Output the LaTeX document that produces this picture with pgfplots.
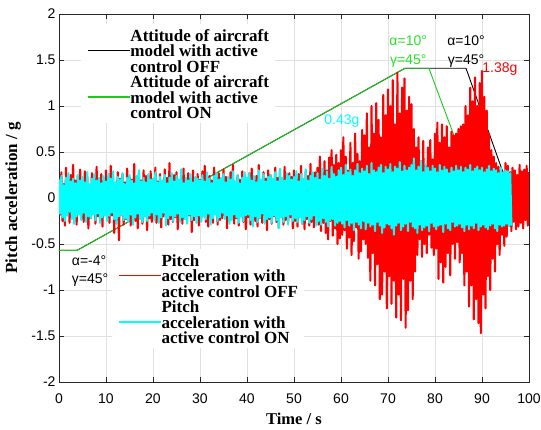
\documentclass[border=0pt]{standalone}
\usepackage{fontspec}
\setmainfont{Liberation Serif}
\newfontfamily\arial{Liberation Sans}
\usepackage{pgfplots}
\pgfplotsset{compat=1.18}
\usepackage{pgfplotstable}
\definecolor{mgreen}{rgb}{0.1,0.8,0.1}
\definecolor{mtgreen}{rgb}{0.15,0.9,0.15}
\definecolor{mcyan}{rgb}{0,1,1}
\definecolor{mred}{rgb}{1,0,0}

% pitch acceleration, active control OFF (sampled every 0.25 s from 0 to 100 s)
\pgfplotstableread[header=false,row sep=\\]{
0.22\\-0.18\\0.28\\-0.25\\0.15\\-0.30\\0.33\\-0.12\\0.20\\-0.27\\0.25\\-0.21\\0.36\\-0.16\\0.19\\-0.29\\0.24\\-0.14\\0.31\\-0.23\\
0.17\\-0.26\\0.29\\-0.19\\0.23\\-0.33\\0.14\\-0.22\\0.27\\-0.17\\0.21\\-0.28\\0.34\\-0.20\\0.16\\-0.25\\0.26\\-0.31\\0.19\\-0.15\\
0.30\\-0.22\\0.18\\-0.27\\0.35\\-0.19\\0.24\\-0.38\\0.15\\-0.24\\0.28\\-0.46\\0.21\\-0.18\\0.26\\-0.29\\0.17\\-0.23\\0.32\\-0.20\\
0.23\\-0.30\\0.20\\-0.16\\0.37\\-0.25\\0.14\\-0.33\\0.27\\-0.21\\0.19\\-0.28\\0.30\\-0.17\\0.24\\-0.35\\0.16\\-0.22\\0.29\\-0.26\\
0.21\\-0.19\\0.33\\-0.27\\0.18\\-0.24\\0.26\\-0.32\\0.15\\-0.20\\0.31\\-0.18\\0.22\\-0.29\\0.38\\-0.23\\0.17\\-0.26\\0.25\\-0.21\\
0.28\\-0.34\\0.19\\-0.17\\0.24\\-0.28\\0.32\\-0.22\\0.16\\-0.25\\0.27\\-0.19\\0.21\\-0.37\\0.30\\-0.24\\0.18\\-0.20\\0.26\\-0.30\\
0.20\\-0.23\\0.29\\-0.18\\0.35\\-0.26\\0.17\\-0.31\\0.24\\-0.21\\0.19\\-0.27\\0.33\\-0.16\\0.22\\-0.29\\0.27\\-0.24\\0.15\\-0.22\\
0.31\\-0.19\\0.23\\-0.33\\0.18\\-0.25\\0.28\\-0.20\\0.36\\-0.28\\0.16\\-0.22\\0.25\\-0.30\\0.20\\-0.17\\0.29\\-0.26\\0.22\\-0.34\\
0.17\\-0.21\\0.27\\-0.29\\0.32\\-0.18\\0.19\\-0.25\\0.24\\-0.31\\0.36\\-0.22\\0.15\\-0.27\\0.28\\-0.19\\0.21\\-0.35\\0.30\\-0.23\\
0.25\\-0.28\\0.18\\-0.20\\0.33\\-0.26\\0.22\\-0.32\\0.29\\-0.17\\0.20\\-0.29\\0.34\\-0.24\\0.16\\-0.27\\0.27\\-0.21\\0.23\\-0.33\\
0.30\\-0.25\\0.21\\-0.31\\0.26\\-0.19\\0.35\\-0.28\\0.18\\-0.34\\0.29\\-0.23\\0.24\\-0.30\\0.37\\-0.26\\0.20\\-0.32\\0.28\\-0.24\\
0.33\\-0.29\\0.45\\-0.36\\0.28\\-0.27\\0.40\\-0.38\\0.30\\-0.45\\0.44\\-0.25\\0.52\\-0.41\\0.36\\-0.33\\0.47\\-0.50\\0.38\\-0.44\\
0.52\\-0.40\\0.66\\-0.35\\0.45\\-0.55\\0.30\\-0.43\\0.60\\-0.62\\0.38\\-0.47\\0.70\\-0.32\\0.48\\-0.66\\0.40\\-0.58\\0.74\\-0.45\\
0.68\\-0.50\\0.92\\-0.65\\0.55\\-0.90\\1.00\\-0.60\\0.70\\-0.95\\1.03\\-0.72\\0.85\\-1.10\\0.66\\-1.05\\1.12\\-0.80\\0.90\\-1.20\\
1.18\\-0.85\\1.00\\-1.15\\1.28\\-0.90\\0.80\\-1.30\\1.36\\-1.05\\0.92\\-1.33\\1.20\\-0.88\\1.30\\-1.41\\0.95\\-1.22\\1.10\\-0.90\\
1.02\\-1.10\\0.75\\-0.80\\0.55\\-0.62\\0.66\\-0.45\\0.40\\-0.64\\0.62\\-0.50\\0.35\\-0.60\\0.55\\-0.40\\0.63\\-0.54\\0.42\\-0.62\\
0.70\\-0.55\\0.82\\-0.88\\0.60\\-0.70\\0.80\\-0.92\\0.66\\-0.75\\0.78\\-0.60\\0.55\\-0.84\\0.72\\-0.50\\0.68\\-0.66\\0.70\\-0.48\\
0.75\\-0.70\\0.78\\-0.60\\0.80\\-0.95\\1.00\\-0.80\\0.90\\-1.18\\1.20\\-0.95\\1.05\\-1.32\\1.31\\-1.10\\1.00\\-1.36\\1.25\\-1.47\\
1.38\\-1.05\\1.10\\-1.20\\0.95\\-0.85\\0.70\\-1.00\\0.52\\-0.66\\0.45\\-0.80\\0.38\\-0.50\\0.34\\-0.62\\0.30\\-0.40\\0.28\\-0.52\\
0.38\\-0.42\\0.35\\-0.30\\0.28\\-0.36\\0.33\\-0.26\\0.30\\-0.34\\0.25\\-0.31\\0.36\\-0.27\\0.29\\-0.33\\0.31\\-0.24\\0.35\\-0.30\\0.28\\
}\redtab

% pitch acceleration, active control ON (sampled every 0.25 s from 0 to 96.25 s)
\pgfplotstableread[header=false,row sep=\\]{
0.20\\-0.17\\0.24\\-0.21\\0.14\\-0.25\\0.22\\-0.19\\0.27\\-0.15\\0.18\\-0.23\\0.21\\-0.28\\0.16\\-0.20\\0.25\\-0.18\\0.19\\-0.24\\
0.23\\-0.16\\0.17\\-0.26\\0.28\\-0.20\\0.15\\-0.22\\0.21\\-0.18\\0.26\\-0.24\\0.19\\-0.17\\0.22\\-0.27\\0.16\\-0.21\\0.24\\-0.19\\
0.18\\-0.25\\0.26\\-0.19\\0.21\\-0.16\\0.29\\-0.23\\0.17\\-0.28\\0.23\\-0.20\\0.20\\-0.18\\0.27\\-0.24\\0.15\\-0.22\\0.22\\-0.26\\
0.25\\-0.18\\0.19\\-0.29\\0.16\\-0.21\\0.24\\-0.17\\0.30\\-0.23\\0.18\\-0.26\\0.22\\-0.20\\0.17\\-0.25\\0.26\\-0.19\\0.20\\-0.16\\
0.21\\-0.24\\0.28\\-0.18\\0.17\\-0.27\\0.23\\-0.21\\0.19\\-0.16\\0.25\\-0.30\\0.16\\-0.22\\0.22\\-0.19\\0.27\\-0.25\\0.18\\-0.20\\
0.24\\-0.17\\0.20\\-0.26\\0.31\\-0.21\\0.16\\-0.23\\0.22\\-0.28\\0.19\\-0.18\\0.26\\-0.24\\0.17\\-0.20\\0.23\\-0.27\\0.21\\-0.19\\
0.19\\-0.26\\0.25\\-0.20\\0.18\\-0.23\\0.28\\-0.17\\0.21\\-0.29\\0.16\\-0.22\\0.24\\-0.18\\0.27\\-0.25\\0.20\\-0.21\\0.22\\-0.16\\
0.26\\-0.23\\0.17\\-0.19\\0.23\\-0.28\\0.20\\-0.24\\0.29\\-0.18\\0.18\\-0.21\\0.25\\-0.27\\0.16\\-0.20\\0.22\\-0.25\\0.28\\-0.19\\
0.22\\-0.18\\0.27\\-0.24\\0.19\\-0.31\\0.24\\-0.20\\0.17\\-0.26\\0.30\\-0.22\\0.20\\-0.17\\0.26\\-0.28\\0.18\\-0.23\\0.23\\-0.21\\
0.25\\-0.27\\0.21\\-0.19\\0.28\\-0.24\\0.18\\-0.33\\0.32\\-0.21\\0.22\\-0.26\\0.19\\-0.20\\0.27\\-0.29\\0.24\\-0.18\\0.20\\-0.25\\
0.23\\-0.22\\0.29\\-0.26\\0.18\\-0.21\\0.26\\-0.28\\0.21\\-0.24\\0.31\\-0.20\\0.19\\-0.27\\0.24\\-0.23\\0.28\\-0.19\\0.22\\-0.30\\
0.27\\-0.25\\0.20\\-0.29\\0.32\\-0.22\\0.24\\-0.26\\0.29\\-0.31\\0.21\\-0.24\\0.34\\-0.23\\0.26\\-0.30\\0.23\\-0.27\\0.30\\-0.25\\
0.33\\-0.28\\0.25\\-0.32\\0.36\\-0.24\\0.28\\-0.30\\0.31\\-0.27\\0.24\\-0.35\\0.30\\-0.26\\0.37\\-0.29\\0.27\\-0.33\\0.32\\-0.25\\
0.29\\-0.34\\0.35\\-0.27\\0.26\\-0.31\\0.38\\-0.29\\0.30\\-0.36\\0.28\\-0.26\\0.33\\-0.30\\0.36\\-0.38\\0.27\\-0.32\\0.34\\-0.28\\
0.31\\-0.29\\0.37\\-0.33\\0.28\\-0.40\\0.34\\-0.30\\0.32\\-0.27\\0.39\\-0.35\\0.29\\-0.31\\0.35\\-0.28\\0.30\\-0.36\\0.33\\-0.26\\
0.36\\-0.31\\0.43\\-0.33\\0.30\\-0.38\\0.34\\-0.29\\0.40\\-0.35\\0.28\\-0.32\\0.37\\-0.30\\0.33\\-0.36\\0.29\\-0.27\\0.35\\-0.31\\
0.32\\-0.34\\0.28\\-0.30\\0.36\\-0.29\\0.30\\-0.37\\0.34\\-0.28\\0.31\\-0.33\\0.27\\-0.35\\0.33\\-0.26\\0.29\\-0.31\\0.35\\-0.30\\
0.30\\-0.28\\0.34\\-0.32\\0.28\\-0.36\\0.33\\-0.29\\0.31\\-0.34\\0.36\\-0.30\\0.29\\-0.33\\0.32\\-0.27\\0.34\\-0.35\\0.30\\-0.31\\
0.33\\-0.29\\0.28\\-0.32\\0.31\\-0.34\\0.35\\-0.30\\0.29\\-0.28\\0.32\\-0.33\\0.30\\-0.36\\0.27\\-0.29\\0.33\\-0.31\\0.28\\-0.30\\
0.30\\-0.28\\0.29\\-0.31\\0.27\\-0.30\\
}\cyantab

\pgfplotsset{
  base/.style={scale only axis, width=470bp, height=368bp,
    xmin=0, xmax=100, ymin=-2, ymax=2},
  leg/.style={
    legend cell align=left,
    legend image code/.code={\draw[##1] (0bp,0bp) -- (42bp,0bp);},
    legend image post style={line width=1.3bp},
    legend style={draw=none, fill=white, anchor=north west,
      inner xsep=6bp, inner ysep=3bp, row sep=0pt,
      font=\fontsize{17bp}{20bp}\selectfont\bfseries,
      nodes={inner sep=0pt},
      /tikz/every even column/.append style={column sep=5bp}}},
}
\tikzset{ann/.style={font=\arial\fontsize{14bp}{16bp}\selectfont, inner sep=0pt}}

\begin{document}
\begin{tikzpicture}
\useasboundingbox (-59bp,-48bp) rectangle (482bp,382bp);
\begin{axis}[base, leg,
  xtick={0,10,20,30,40,50,60,70,80,90,100},
  ytick={-2,-1.5,-1,-0.5,0,0.5,1,1.5,2},
  grid=major, grid style={black!12, line width=0.5bp},
  tick align=inside, major tick length=5bp,
  axis line style={black!85, line width=0.6bp},
  tick style={black!85, line width=0.6bp},
  /pgf/number format/assume math mode=true,
  ticklabel style={font=\arial\fontsize{14bp}{16bp}\selectfont},
  xticklabel style={yshift=-8bp},
  every axis x label/.style={at={(axis description cs:0.5,-0.1168)}, anchor=base, font=\fontsize{16.5bp}{20bp}\selectfont\bfseries},
  every axis y label/.style={at={(axis description cs:-0.0978,0.5)}, rotate=90, anchor=center, font=\fontsize{17bp}{20bp}\selectfont\bfseries},
  xlabel={Time / s}, ylabel={Pitch acceleration / g},
  legend style={at={(axis cs:4.68,1.891)}},
]
\addlegendimage{empty legend}\addlegendentry{\strut Attitude of aircraft}
\addplot[black, line width=0.9bp] coordinates {(0,-0.57) (3.8,-0.57) (73.6,1.41) (86.6,1.41) (96.4,0.0)};
\addlegendentry{\strut model with active}
\addlegendimage{empty legend}\addlegendentry{\strut control OFF}
\addlegendimage{empty legend}\addlegendentry{\strut Attitude of aircraft}
\addplot[mgreen, line width=0.9bp] coordinates {(0,-0.57) (3.8,-0.57) (73.6,1.41) (78.7,1.41) (89,0.0)};
\addlegendentry{\strut model with active}
\addlegendimage{empty legend}\addlegendentry{\strut control ON}
\end{axis}
\begin{axis}[base, leg, hide axis,
  legend style={at={(axis cs:11.28,-0.554)}},
]
\addlegendimage{empty legend}\addlegendentry{\strut Pitch}
\addplot[mred, line width=2.1bp, line join=round] table[x expr=\coordindex*0.25, y index=0] {\redtab};
\addlegendentry{\strut acceleration with}
\addlegendimage{empty legend}\addlegendentry{\strut active control OFF}
\addlegendimage{empty legend}\addlegendentry{\strut Pitch}
\addplot[mcyan, line width=2.1bp, line join=round] table[x expr=\coordindex*0.25, y index=0] {\cyantab};
\addlegendentry{\strut acceleration with}
\addlegendimage{empty legend}\addlegendentry{\strut active control ON}
\node[ann, text=mtgreen] at (axis cs:74.3,1.71) {α=10°};
\node[ann, text=mtgreen] at (axis cs:74.3,1.49) {γ=45°};
\node[ann, text=black] at (axis cs:86.6,1.71) {α=10°};
\node[ann, text=black] at (axis cs:86.6,1.49) {γ=45°};
\node[ann, text=mred] at (axis cs:93.8,1.40) {1.38g};
\node[ann, text=mcyan] at (axis cs:60.2,0.84) {0.43g};
\node[ann, text=black] at (axis cs:6.4,-0.685) {α=-4°};
\node[ann, text=black] at (axis cs:6.6,-0.89) {γ=45°};
\end{axis}
\end{tikzpicture}
\end{document}
